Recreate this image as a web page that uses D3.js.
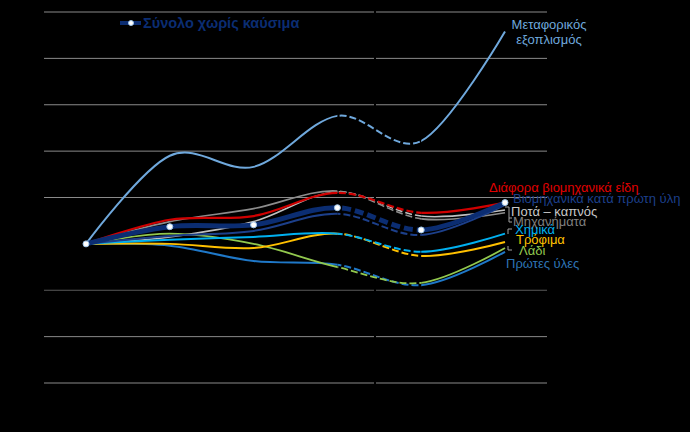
<!DOCTYPE html>
<html><head><meta charset="utf-8">
<script src="https://cdn.jsdelivr.net/npm/d3@7"></script>
<style>html,body{margin:0;padding:0;background:#000;}svg{display:block;}</style>
</head><body>
<svg id="c" width="690" height="432"></svg>
<script>
// ---- data ----
const categories = ["1","2","3","4","5","6"];
const yTicks = [70,80,90,100,110,120,130,140,150];
const seriesNames = ["Ποτά – καπνός","Μηχανήματα","Πρώτες ύλες","Λάδι","Τρόφιμα","Χημικά","Βιομηχανικά κατά πρώτη ύλη","Διάφορα βιομηχανικά είδη","Μεταφορικός εξοπλισμός","Σύνολο χωρίς καύσιμα"];
const potaKapnos   = [100,101.5,104.8,111.2,106.0,107.3];
const michanimata  = [100,104.8,107.6,111.4,105.4,106.7];
const protesYles   = [100,99.6,96.3,95.5,91.1,98.3];
const ladi         = [100,102.2,100.0,95.0,91.6,99.1];
const trofima      = [100,100.0,99.1,102.2,97.4,100.4];
const chimika      = [100,100.9,101.5,102.2,98.3,102.2];
const viomPrwti    = [100,101.7,102.8,106.5,101.9,108.4];
const diafora      = [100,105.2,106.0,111.0,106.7,108.9];
const metaforikos  = [100,119.0,116.6,127.6,122.2,145.8];
const synolo       = [100,103.7,104.1,107.8,103.0,108.9];
const seriesValues = [potaKapnos,michanimata,protesYles,ladi,trofima,chimika,viomPrwti,diafora,metaforikos,synolo];
const seriesColors = ["#bfbfbf","#8c8c8c","#1f78c8","#92c84e","#ffc000","#00b0f0","#1c3f8a","#d00000","#6fa8dc","#0b2d72"];
const seriesWidths = [1.6,1.6,2,1.8,2,2,2,2.2,2,5];

const svg = d3.select("#c");
const x = d3.scalePoint().domain(categories).range([86,505]);
const y = d3.scaleLinear().domain([70,150]).range([383,12]);

// gridlines
svg.append("g").selectAll("line").data(yTicks.filter(t=>t!==100)).join("line")
  .attr("x1",44).attr("x2",547).attr("y1",d=>y(d)).attr("y2",d=>y(d))
  .attr("stroke",d=>d===90?"#5a5a5a":"#8a8a8a").attr("stroke-width",1);
// black axis (invisible on black)
svg.append("g").attr("transform",`translate(0,${y(100)})`)
  .call(d3.axisBottom(x).tickSize(0).tickFormat(""))
  .call(g=>g.select(".domain").attr("stroke","#000"));
svg.append("line").attr("x1",375).attr("x2",375).attr("y1",8).attr("y2",386).attr("stroke","#000").attr("stroke-width",2);

const line = d3.line().x((d,i)=>x(categories[i])).y(d=>y(d)).curve(d3.curveCatmullRom.alpha(0));

// clip regions for solid / dashed (provisional) segment
const defs = svg.append("defs");
const xa = x(categories[3]), xb = x(categories[4]);
defs.append("clipPath").attr("id","solidA").append("rect").attr("x",0).attr("y",0).attr("width",xa).attr("height",432);
defs.append("clipPath").attr("id","solidB").append("rect").attr("x",xb).attr("y",0).attr("width",690-xb).attr("height",432);
defs.append("clipPath").attr("id","dash").append("rect").attr("x",xa).attr("y",0).attr("width",xb-xa).attr("height",432);

seriesValues.forEach((vals,k)=>{
  const g = svg.append("g");
  const d = line(vals);
  ["solidA","solidB"].forEach(c=>g.append("path").attr("d",d).attr("fill","none")
    .attr("stroke",seriesColors[k]).attr("stroke-width",seriesWidths[k]).attr("clip-path",`url(#${c})`));
  g.append("path").attr("d",d).attr("fill","none")
    .attr("stroke",seriesColors[k]).attr("stroke-width",seriesWidths[k])
    .attr("stroke-dasharray",k===9?"9,4":"7,3").attr("clip-path","url(#dash)");
});

// markers on total
svg.append("g").selectAll("circle").data(synolo).join("circle")
  .attr("cx",(d,i)=>x(categories[i])).attr("cy",d=>y(d)).attr("r",3)
  .attr("fill","#fff").attr("stroke","#9dc3e6").attr("stroke-width",1);

// leader lines
const leaders = [
  [[505,207],[509,207],[509,218],[512,218]],
  [[509,218],[509,222],[512,222]],
  [[512,229],[508,229],[508,234]],
  [[508,246],[508,250],[512,250]]
];
svg.append("g").selectAll("path").data(leaders).join("path")
  .attr("d",d=>d3.line()(d)).attr("fill","none").attr("stroke","#a0a0a0").attr("stroke-width",1);

// labels
const labels = [
  {t:"Μεταφορικός",x:549,y:29,c:"#6fa8dc",a:"middle"},
  {t:"εξοπλισμός",x:549,y:44,c:"#6fa8dc",a:"middle"},
  {t:"Διάφορα βιομηχανικά είδη",x:489,y:192,c:"#e00000",a:"start"},
  {t:"Βιομηχανικά κατά πρώτη ύλη",x:513,y:203,c:"#1c3f8a",a:"start"},
  {t:"Ποτά – καπνός",x:511,y:216,c:"#c8c8c8",a:"start"},
  {t:"Μηχανήματα",x:513,y:226,c:"#7f7f7f",a:"start"},
  {t:"Χημικά",x:515,y:234,c:"#00b0f0",a:"start"},
  {t:"Τρόφιμα",x:516,y:244,c:"#ffc000",a:"start"},
  {t:"Λάδι",x:519,y:255,c:"#92c84e",a:"start"},
  {t:"Πρώτες ύλες",x:506,y:268,c:"#2e75b6",a:"start"}
];
svg.append("g").selectAll("text").data(labels).join("text")
  .attr("x",d=>d.x).attr("y",d=>d.y).attr("fill",d=>d.c).attr("text-anchor",d=>d.a)
  .attr("font-family","Liberation Sans, Arial, sans-serif").attr("font-size",13).text(d=>d.t);

// legend
const lg = svg.append("g");
lg.append("line").attr("x1",120).attr("x2",141).attr("y1",23).attr("y2",23).attr("stroke","#0b2d72").attr("stroke-width",4);
lg.append("circle").attr("cx",131).attr("cy",23).attr("r",2.5).attr("fill","#fff").attr("stroke","#9dc3e6").attr("stroke-width",1);
lg.append("text").attr("x",143).attr("y",28).attr("fill","#0b2d72").attr("font-weight","bold")
  .attr("font-family","Liberation Sans, Arial, sans-serif").attr("font-size",14.5).text(seriesNames[9]);
</script>
</body></html>
